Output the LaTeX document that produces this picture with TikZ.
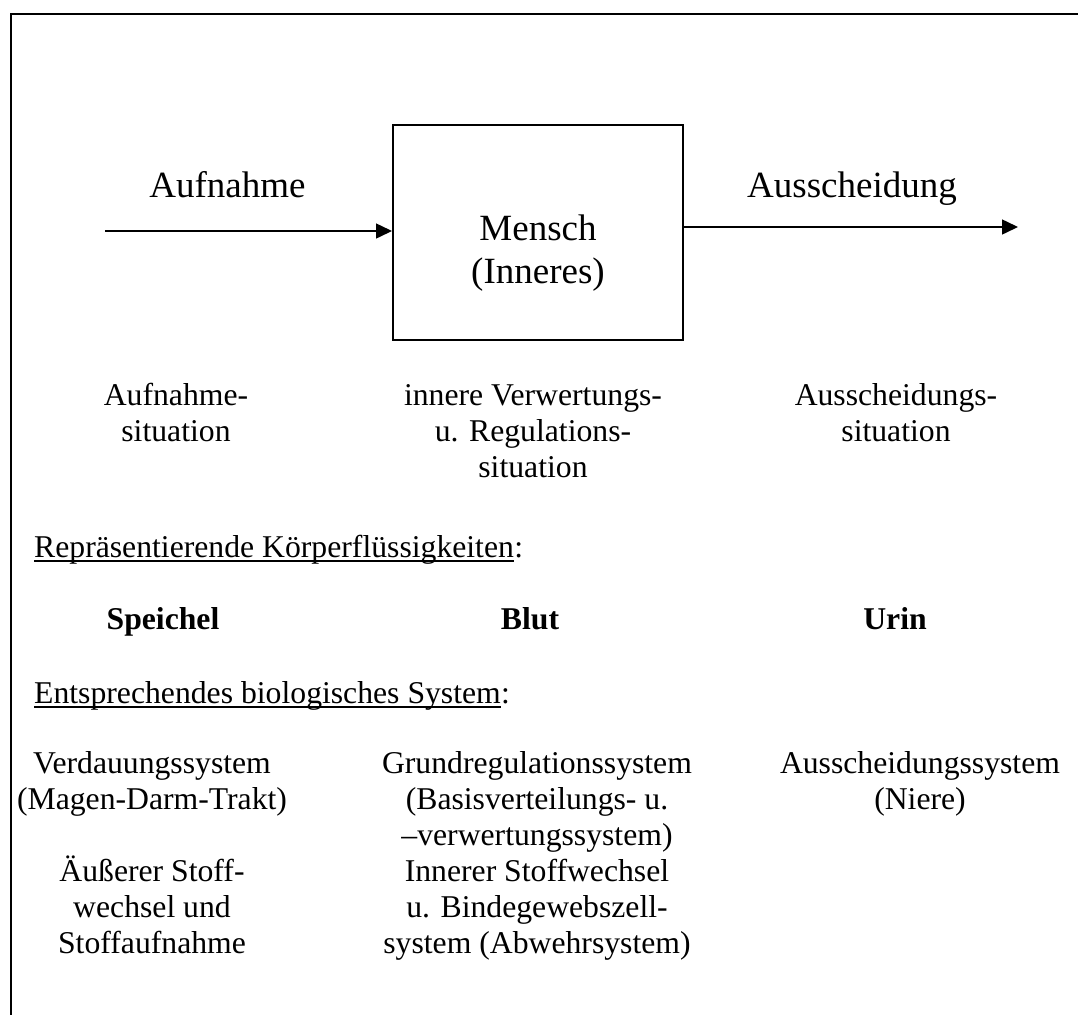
\documentclass[tikz,border=0pt]{standalone}
\usepackage{fontspec}
\setmainfont{Liberation Serif}
\usetikzlibrary{arrows.meta}
\newcommand{\blk}[1]{\begin{tabular}[t]{@{}c@{}}#1\end{tabular}}
\tikzset{
  txt/.style={inner sep=0pt, anchor=base, font=\fontsize{31.7}{36}\selectfont},
  big/.style={inner sep=0pt, anchor=base, font=\fontsize{37}{43.5}\selectfont},
  flow/.style={line width=1.5pt, -{Triangle[length=16pt,width=15pt]}},
  frame/.style={line width=2pt}
}
\begin{document}
\begin{tikzpicture}[x=1pt,y=-1pt]
\useasboundingbox (0,0) rectangle (1078,1015);
\fill[white] (0,0) rectangle (1078,1015);
% frame
\coordinate (ftr) at (1078,14);
\coordinate (ftl) at (11,14);
\coordinate (fbl) at (11,1015);
\draw[frame] (ftr) -- (ftl) -- (fbl);
% box
\node[draw, line width=2pt, minimum width=290pt, minimum height=215pt, inner sep=0pt] (box) at (538,232.5) {};
\node[big] (mensch) at (538,240) {\blk{Mensch\\(Inneres)}};
% arrows
\coordinate (ain) at (105,231);
\coordinate (aout) at (1018,227);
\draw[flow] (ain) -- (ain -| box.west);
\draw[flow] (aout -| box.east) -- (aout);
\node[big] (aufn) at (227.5,197) {Aufnahme};
\node[big] (aussch) at (852,197) {Ausscheidung};
% situation row
\node[txt] (s1) at (176,405) {\blk{Aufnahme-\\situation}};
\node[txt] (s2) at (533,405) {\blk{innere Verwertungs-\\u. Regulations-\\situation}};
\node[txt] (s3) at (896,405) {\blk{Ausscheidungs-\\situation}};
% fluids
\node[txt, anchor=base west] (rep) at (34,557) {Repräsentierende Körperflüssigkeiten};
\node[txt, anchor=base west] (repc) at (rep.base east) {:};
\draw[line width=1.8pt] ([yshift=-4pt]rep.base west) -- ([yshift=-4pt]rep.base east);
\node[txt, font=\fontsize{31.7}{36}\selectfont\bfseries] (f1) at (163,629) {Speichel};
\node[txt, font=\fontsize{31.7}{36}\selectfont\bfseries] (f2) at (530,629) {Blut};
\node[txt, font=\fontsize{31.7}{36}\selectfont\bfseries] (f3) at (895,629) {Urin};
% systems
\node[txt, anchor=base west] (ent) at (34,703) {Entsprechendes biologisches System};
\node[txt, anchor=base west] (entc) at (ent.base east) {:};
\draw[line width=1.8pt] ([yshift=-4pt]ent.base west) -- ([yshift=-4pt]ent.base east);
\node[txt] (b1) at (152,773) {\blk{Verdauungssystem\\(Magen-Darm-Trakt)\\ \\Äußerer Stoff-\\wechsel und\\Stoffaufnahme}};
\node[txt] (b2) at (537,773) {\blk{Grundregulationssystem\\(Basisverteilungs- u.\\–verwertungssystem)\\Innerer Stoffwechsel\\u. Bindegewebszell-\\system (Abwehrsystem)}};
\node[txt] (b3) at (920,773) {\blk{Ausscheidungssystem\\(Niere)}};
\end{tikzpicture}
\end{document}
